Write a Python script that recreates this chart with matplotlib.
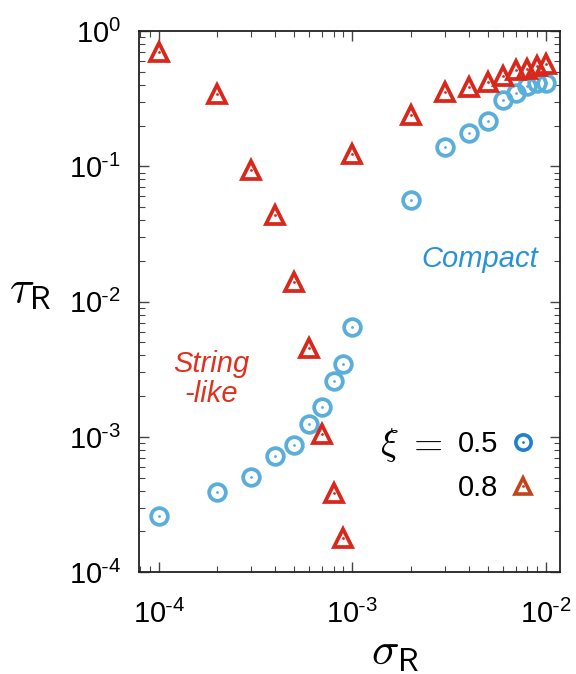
import numpy as np
import matplotlib
matplotlib.use("Agg")
import matplotlib.pyplot as plt
from matplotlib.ticker import LogLocator, FuncFormatter, NullFormatter
from matplotlib.lines import Line2D


plt.rcParams["font.family"] = ["Liberation Sans", "DejaVu Sans"]
plt.rcParams["mathtext.fontset"] = "cm"


# sigma_R values (same grid for both series)
sigma = [1e-4, 2e-4, 3e-4, 4e-4, 5e-4, 6e-4, 7e-4, 8e-4, 9e-4,
         1e-3, 2e-3, 3e-3, 4e-3, 5e-3, 6e-3, 7e-3, 8e-3, 9e-3, 1e-2]

# xi = 0.5 (compact)
tau_05 = [2.62e-4, 3.91e-4, 5.09e-4, 7.28e-4, 8.73e-4, 1.25e-3, 1.67e-3,
          2.60e-3, 3.44e-3, 6.52e-3, 0.0561, 0.140, 0.175, 0.216, 0.307,
          0.346, 0.392, 0.410, 0.415]

# xi = 0.8 (string-like)
tau_08 = [0.702, 0.340, 0.0934, 0.0435, 0.0139, 4.54e-3, 1.05e-3,
          3.84e-4, 1.79e-4, 0.124, 0.238, 0.353, 0.385, 0.422, 0.464,
          0.514, 0.526, 0.550, 0.573]

xi_labels = ["0.5", "0.8"]

BLUE = "#5aaedb"
RED = "#d8281c"


fig = plt.figure(figsize=(5.76, 6.74), dpi=100)
ax = fig.add_axes([0.241, 0.151, 0.731, 0.803])

ax.set_xscale("log")
ax.set_yscale("log")

# open markers with a small dot in the middle
ax.plot(sigma, tau_05, linestyle="none", marker="o", markersize=12,
        markerfacecolor="none", markeredgecolor=BLUE, markeredgewidth=2.7)
ax.plot(sigma, tau_05, linestyle="none", marker="o", markersize=2,
        color=BLUE, markeredgewidth=0)

ax.plot(sigma, tau_08, linestyle="none", marker="^", markersize=13,
        markerfacecolor="none", markeredgecolor=RED, markeredgewidth=2.7)
ax.plot(sigma, tau_08, linestyle="none", marker="o", markersize=2,
        color=RED, markeredgewidth=0)

ax.set_xlim(7.9e-5, 1.18e-2)
ax.set_ylim(1e-4, 1e0)


def fmt(v, pos):
    e = int(round(np.log10(v)))
    if e < 0:
        return r"$\mathdefault{10^{\text{-}%d}}$" % (-e)
    return r"$\mathdefault{10^{%d}}$" % e


for axis in (ax.xaxis, ax.yaxis):
    axis.set_major_locator(LogLocator(base=10, numticks=10))
    axis.set_minor_locator(LogLocator(base=10, subs=np.arange(2, 10), numticks=10))
    axis.set_major_formatter(FuncFormatter(fmt))
    axis.set_minor_formatter(NullFormatter())

ax.tick_params(which="both", direction="in", top=True, right=True,
               labelsize=21, color="#444444")
ax.tick_params(which="major", length=7, width=1)
ax.tick_params(which="minor", length=4, width=0.8)
ax.tick_params(axis="y", pad=13)
ax.tick_params(axis="x", pad=20)

for s in ax.spines.values():
    s.set_linewidth(1.3)
    s.set_color("#222222")

fig.text(0.052, 0.57, r"$\tau_{\mathsf{R}}$", fontsize=33, ha="center", va="center")
fig.text(0.686, 0.032, r"$\sigma_{\mathsf{R}}$", fontsize=33, ha="center", va="center")

ax.text(4.57e-3, 0.0206, "Compact", color="#2a93d5", fontsize=21,
        style="italic", ha="center", va="center")
ax.text(1.87e-4, 2.68e-3, "String\n-like", color="#e0301e", fontsize=21,
        style="italic", ha="center", va="center", linespacing=1.1)

# legend
h05 = (Line2D([], [], linestyle="none", marker="o", markersize=11,
              markerfacecolor="none", markeredgecolor="#1f7fd0", markeredgewidth=2.6),
       Line2D([], [], linestyle="none", marker="o", markersize=2,
              color="#1f7fd0", markeredgewidth=0))
h08 = (Line2D([], [], linestyle="none", marker="^", markersize=12,
              markerfacecolor="none", markeredgecolor="#c0441c", markeredgewidth=2.6),
       Line2D([], [], linestyle="none", marker="o", markersize=2,
              color="#c0441c", markeredgewidth=0))
leg = ax.legend([h05, h08], xi_labels, loc="center", bbox_to_anchor=(0.848, 0.196),
                frameon=False, markerfirst=False, fontsize=21, handlelength=0.8,
                handletextpad=0.45, labelspacing=0.55)

ax.text(0.648, 0.235, r"$\xi\ =$", transform=ax.transAxes, fontsize=27,
        ha="center", va="center")

fig.savefig("out.png", dpi=100)
